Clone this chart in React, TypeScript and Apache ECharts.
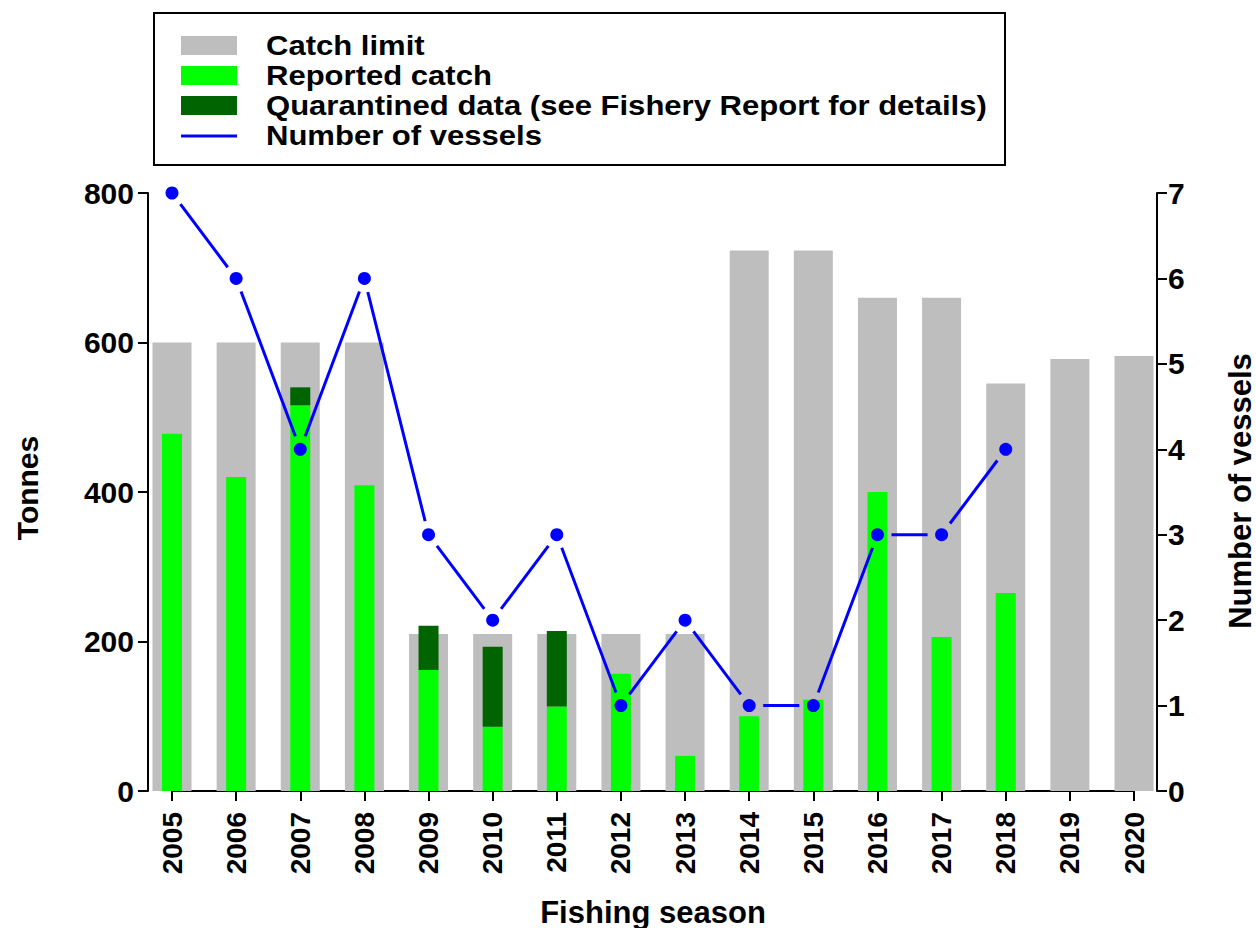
import React, { useEffect, useRef } from "react";
import * as echarts from "echarts";

const years = ["2005", "2006", "2007", "2008", "2009", "2010", "2011", "2012", "2013", "2014", "2015", "2016", "2017", "2018", "2019", "2020"];
const catchLimit = [600, 600, 600, 600, 210, 210, 210, 210, 210, 723, 723, 660, 660, 545, 578, 582];
const reportedCatch = [478, 420, 516, 409, 162, 86, 113, 157, 47, 100, 122, 400, 206, 265, null, null];
const quarantined = [0, 0, 24, 0, 59, 107, 101, 0, 0, 0, 0, 0, 0, 0, null, null];
const vessels = [7, 6, 4, 6, 3, 2, 3, 1, 2, 1, 1, 3, 3, 4, null, null];

const tonnesTicks = { min: 0, max: 800, interval: 200 };
const vesselTicks = { min: 0, max: 7, interval: 1 };

const legendLabels = [
  "Catch limit",
  "Reported catch",
  "Quarantined data (see Fishery Report for details)",
  "Number of vessels",
];

const FONT = '"Liberation Sans", Arial, Helvetica, sans-serif';
const GRAY = "#BEBEBE";
const GREEN = "#00FF00";
const DKGREEN = "#006400";
const BLUE = "#0000FF";

export default function App() {
  const ref = useRef<HTMLDivElement>(null);

  useEffect(() => {
    if (!ref.current) return;
    const chart = echarts.init(ref.current, undefined, { renderer: "svg" });

    const segs: number[][] = [];
    for (let i = 0; i < vessels.length - 1; i++) {
      const a = vessels[i];
      const b = vessels[i + 1];
      if (a != null && b != null) segs.push([i, a, i + 1, b]);
    }

    const catAxis = (show: boolean) => ({
      type: "category",
      data: years,
      boundaryGap: false,
      show,
      axisLine: { show: true, lineStyle: { color: "#000", width: 2 } },
      axisTick: { show: true, length: 10, interval: 0, lineStyle: { color: "#000", width: 2 } },
      axisLabel: {
        show: true,
        interval: 0,
        rotate: 90,
        margin: 21,
        color: "#000",
        fontFamily: FONT,
        fontWeight: "bold",
        fontSize: 28,
      },
      splitLine: { show: false },
    });

    const textStyle = (text: string, size: number) => ({
      text,
      font: `bold ${size}px ${FONT}`,
      fill: "#000",
      textAlign: "center",
      textVerticalAlign: "middle",
      align: "center",
      verticalAlign: "middle",
    });

    const legendGraphics: any[] = [
      {
        type: "rect",
        shape: { x: 154, y: 13, width: 851, height: 152 },
        style: { fill: "#fff", stroke: "#000", lineWidth: 2 },
        z: 10,
      },
      { type: "rect", shape: { x: 181, y: 36, width: 56, height: 19 }, style: { fill: GRAY }, z: 11 },
      { type: "rect", shape: { x: 181, y: 66, width: 56, height: 19 }, style: { fill: GREEN }, z: 11 },
      { type: "rect", shape: { x: 181, y: 96, width: 56, height: 19 }, style: { fill: DKGREEN }, z: 11 },
      {
        type: "line",
        shape: { x1: 181, y1: 136, x2: 237, y2: 136 },
        style: { stroke: BLUE, lineWidth: 3 },
        z: 11,
      },
    ];
    legendLabels.forEach((t, i) => {
      legendGraphics.push({
        type: "text",
        x: 266,
        y: 46 + i * 30,
        scaleX: 1.15,
        z: 11,
        style: {
          text: t,
          font: `bold 27px ${FONT}`,
          fill: "#000",
          textAlign: "left",
          textVerticalAlign: "middle",
          align: "left",
          verticalAlign: "middle",
        },
      });
    });

    const yLabel = (margin: number) => ({
      margin,
      color: "#000",
      fontFamily: FONT,
      fontWeight: "bold",
      fontSize: 30,
    });

    const option: any = {
      animation: false,
      backgroundColor: "#fff",
      grid: { left: 172, right: 122, top: 193, bottom: 137, containLabel: false },
      xAxis: [catAxis(true), catAxis(false)],
      yAxis: [
        {
          type: "value",
          position: "left",
          offset: 24,
          ...tonnesTicks,
          axisLine: { show: true, lineStyle: { color: "#000", width: 2 } },
          axisTick: { show: true, length: 10, lineStyle: { color: "#000", width: 2 } },
          axisLabel: yLabel(14),
          splitLine: { show: false },
        },
        {
          type: "value",
          position: "right",
          offset: 23,
          ...vesselTicks,
          axisLine: { show: true, lineStyle: { color: "#000", width: 2 } },
          axisTick: { show: true, length: 10, lineStyle: { color: "#000", width: 2 } },
          axisLabel: yLabel(11),
          splitLine: { show: false },
        },
      ],
      series: [
        {
          name: "Catch limit",
          type: "bar",
          xAxisIndex: 0,
          yAxisIndex: 0,
          data: catchLimit,
          barWidth: 39,
          clip: false,
          itemStyle: { color: GRAY },
          z: 1,
        },
        {
          name: "Reported catch",
          type: "bar",
          xAxisIndex: 1,
          yAxisIndex: 0,
          stack: "catch",
          data: reportedCatch,
          barWidth: 20,
          clip: false,
          itemStyle: { color: GREEN },
          z: 2,
        },
        {
          name: "Quarantined data (see Fishery Report for details)",
          type: "bar",
          xAxisIndex: 1,
          yAxisIndex: 0,
          stack: "catch",
          data: quarantined,
          barWidth: 20,
          clip: false,
          itemStyle: { color: DKGREEN },
          z: 2,
        },
        {
          name: "Number of vessels",
          type: "custom",
          xAxisIndex: 0,
          yAxisIndex: 1,
          data: segs,
          clip: false,
          z: 3,
          renderItem: (params: any, api: any) => {
            const s = segs[params.dataIndex];
            const p1 = api.coord([s[0], s[1]]);
            const p2 = api.coord([s[2], s[3]]);
            const dx = p2[0] - p1[0];
            const dy = p2[1] - p1[1];
            const len = Math.sqrt(dx * dx + dy * dy);
            const g = 14;
            if (len <= 2 * g) return null;
            const ux = dx / len;
            const uy = dy / len;
            return {
              type: "line",
              shape: {
                x1: p1[0] + ux * g,
                y1: p1[1] + uy * g,
                x2: p2[0] - ux * g,
                y2: p2[1] - uy * g,
              },
              style: { stroke: BLUE, lineWidth: 3, fill: null },
            };
          },
        },
        {
          name: "Number of vessels points",
          type: "scatter",
          xAxisIndex: 0,
          yAxisIndex: 1,
          data: vessels,
          symbol: "circle",
          symbolSize: 13,
          itemStyle: { color: BLUE, opacity: 1 },
          z: 4,
        },
      ],
      graphic: [
        ...legendGraphics,
        {
          type: "text",
          x: 27,
          y: 488,
          rotation: Math.PI / 2,
          style: textStyle("Tonnes", 30),
        },
        {
          type: "text",
          x: 1240,
          y: 491,
          rotation: Math.PI / 2,
          style: textStyle("Number of vessels", 31),
        },
        {
          type: "text",
          x: 653,
          y: 912,
          style: textStyle("Fishing season", 31),
        },
      ],
    };

    chart.setOption(option);
    return () => chart.dispose();
  }, []);

  return (
    <div
      ref={ref}
      style={{ position: "fixed", left: 0, top: 0, width: 1256, height: 928, background: "#fff" }}
    />
  );
}
